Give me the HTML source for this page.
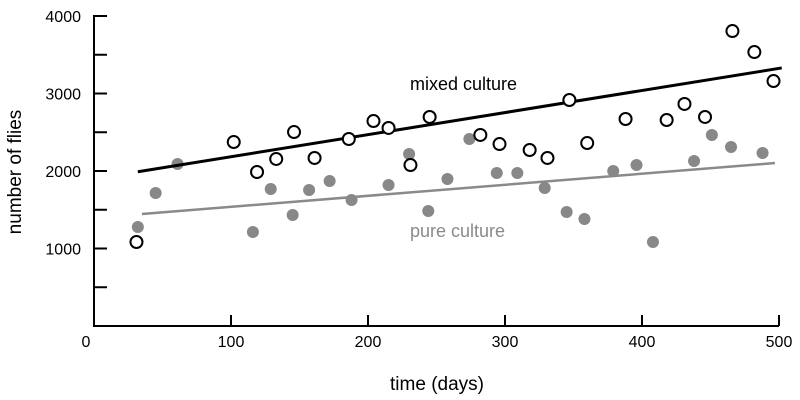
<!DOCTYPE html>
<html><head><meta charset="utf-8"><style>
body{margin:0;background:#fff}
svg{display:block;font-family:"Liberation Sans",Arial,sans-serif}
</style></head><body>
<svg id="chart" width="800" height="400" viewBox="0 0 800 400">
<g id="axes"></g>
<g id="marks"></g>
<text x="410" y="90" font-size="18" fill="#000">mixed culture</text>
<text x="410" y="237" font-size="18" fill="#8a8a8a">pure culture</text>
<text x="437" y="390" font-size="19" text-anchor="middle">time (days)</text>
<text transform="translate(21,172) rotate(-90)" font-size="19" text-anchor="middle">number of flies</text>
</svg>
<script>
const mixedX=[31,102,119,133,146,161,186,204,215,231,245,282,296,318,331,347,360,388,418,431,446,466,482,496];
const mixedY=[1084,2374,1987,2155,2503,2168,2413,2645,2555,2077,2697,2465,2348,2271,2168,2916,2361,2671,2658,2865,2697,3806,3535,3161];
const pureX=[32,45,61,116,129,145,157,172,188,215,230,244,258,274,294,309,329,345,358,379,396,408,438,451,465,488];
const pureY=[1277,1716,2090,1213,1768,1432,1755,1871,1626,1819,2219,1484,1897,2413,1974,1974,1781,1471,1381,2000,2077,1084,2129,2465,2310,2232];
const mixedFit=[1899,2.85];   // intercept, slope
const pureFit=[1395,1.424];
const mixedRange=[32,502];
const pureRange=[35,497];
const xTicks=[0,100,200,300,400,500];
const yTicks=[0,500,1000,1500,2000,2500,3000,3500,4000];
const yLabels=[1000,2000,3000,4000];

const NS="http://www.w3.org/2000/svg";
const X=v=>94+v*1.37;
const Y=v=>326-v*0.0775;
function mk(tag,attrs,parent){const e=document.createElementNS(NS,tag);for(const k in attrs)e.setAttribute(k,attrs[k]);parent.appendChild(e);return e;}
const axes=document.getElementById('axes'),marks=document.getElementById('marks');

let a=mk('path',{d:`M${X(0)} ${Y(4000)-1}V${Y(0)}H${X(500)}`,fill:'none',stroke:'#000','stroke-width':2},axes);


yTicks.forEach(t=>{
  const l=mk('line',{x1:X(0),x2:X(0)+13,y1:Y(t),y2:Y(t),stroke:'#000','stroke-width':2},axes);
  
  
});
yLabels.forEach(t=>{
  const tx=mk('text',{x:81,y:Y(t)+6,'font-size':16,'text-anchor':'end'},axes);tx.textContent=t;
  
  
});
xTicks.forEach(t=>{
  if(t>0){const l=mk('line',{x1:X(t),x2:X(t),y1:Y(0)-11,y2:Y(0),stroke:'#000','stroke-width':2},axes);
  
  }
  const tx=mk('text',{x:t===0?X(t)-8:X(t),y:347,'font-size':16,'text-anchor':'middle'},axes);tx.textContent=t;
  
  
});

let pl=mk('line',{x1:X(pureRange[0]),y1:Y(pureFit[0]+pureFit[1]*pureRange[0]),x2:X(pureRange[1]),y2:Y(pureFit[0]+pureFit[1]*pureRange[1]),stroke:'#8a8a8a','stroke-width':2.5},marks);


pureX.forEach((x,i)=>{
  const c=mk('circle',{cx:X(x),cy:Y(pureY[i]),r:6,fill:'#888'},marks);
  
  
});
let ml=mk('line',{x1:X(mixedRange[0]),y1:Y(mixedFit[0]+mixedFit[1]*mixedRange[0]),x2:X(mixedRange[1]),y2:Y(mixedFit[0]+mixedFit[1]*mixedRange[1]),stroke:'#000','stroke-width':3},marks);


mixedX.forEach((x,i)=>{
  const c=mk('circle',{cx:X(x),cy:Y(mixedY[i]),r:6,fill:'#fff',stroke:'#000','stroke-width':2},marks);
  
  
});
</script>
</body></html>
